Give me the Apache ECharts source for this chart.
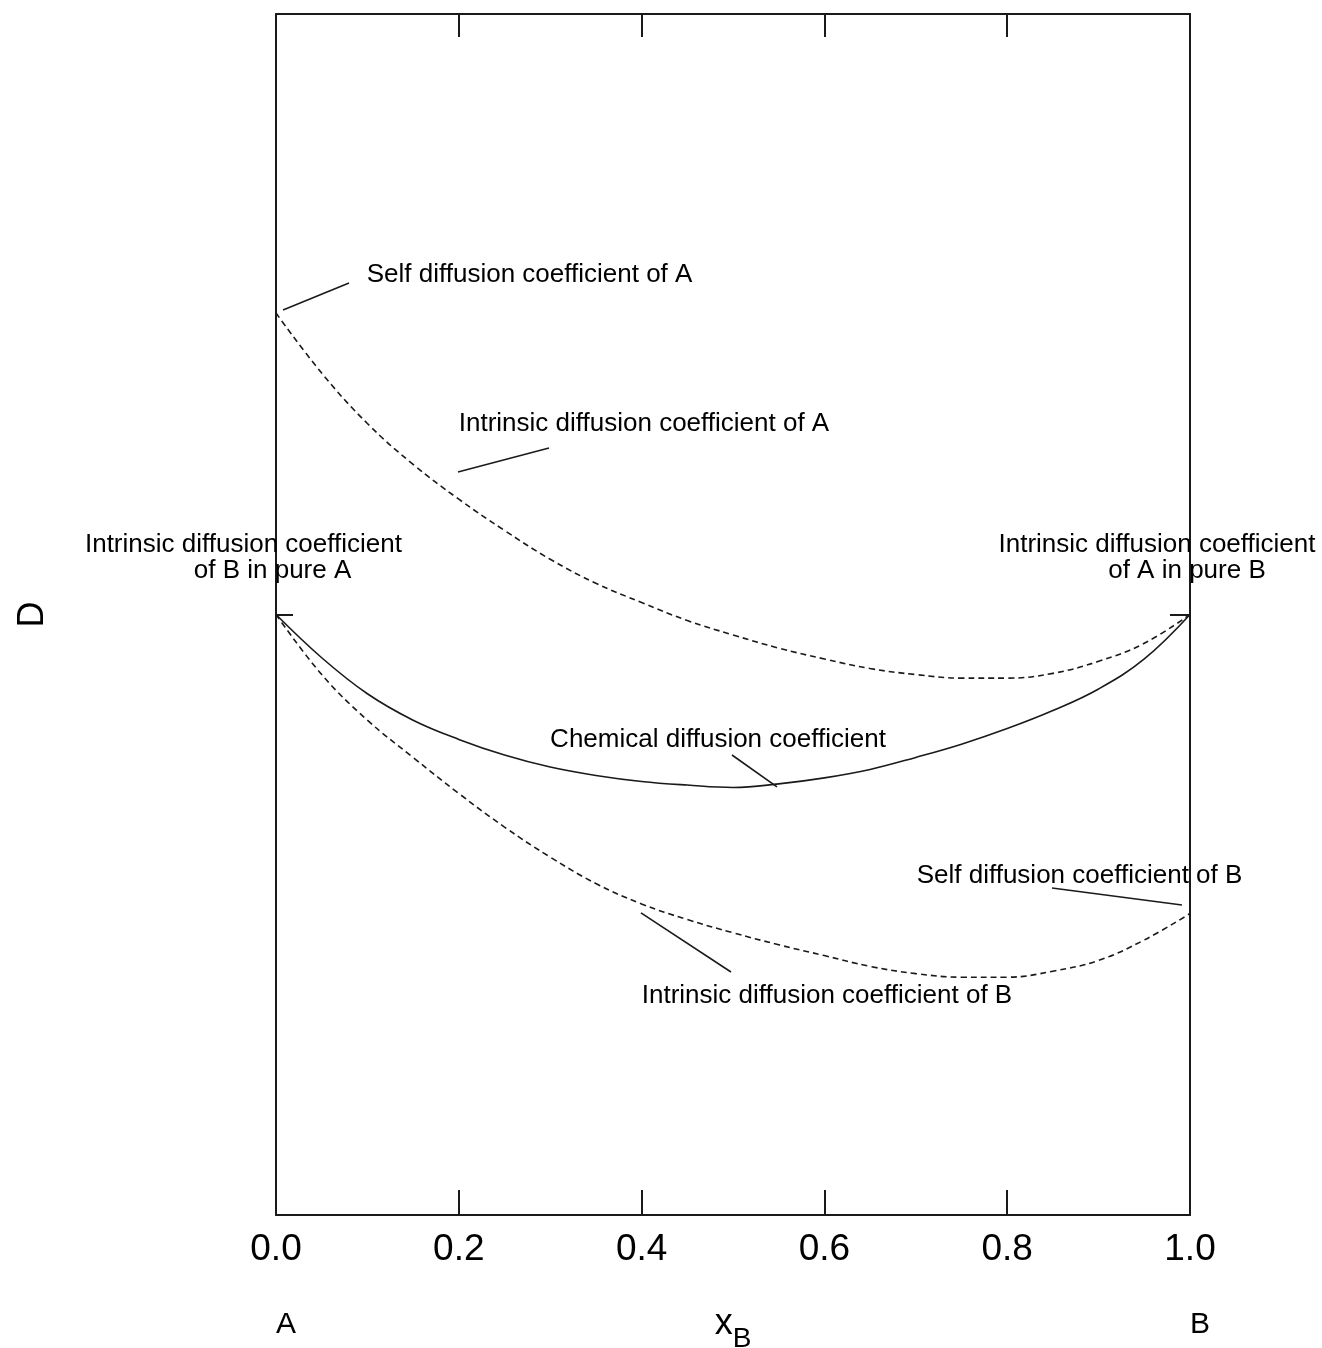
<!DOCTYPE html>
<html>
<head>
<meta charset="utf-8">
<script src="https://cdn.jsdelivr.net/npm/echarts@6/dist/echarts.min.js"></script>
<style>
html,body{margin:0;padding:0;background:#fff;overflow:hidden;}
#chart{width:1322px;height:1348px;}
</style>
</head>
<body>
<div id="chart"></div>
<script>
// composition x_B
const xB = [0, 0.05, 0.1, 0.15, 0.2, 0.25, 0.3, 0.35, 0.4, 0.45, 0.5, 0.55, 0.6, 0.65, 0.7, 0.75, 0.8, 0.85, 0.9, 0.95, 1.0];
// intrinsic diffusion coefficient of A (dashed, upper)
const DA = [0.751, 0.701, 0.659, 0.625, 0.596, 0.570, 0.546, 0.526, 0.510, 0.495, 0.483, 0.472, 0.463, 0.455, 0.450, 0.447, 0.447, 0.451, 0.461, 0.476, 0.500];
// chemical diffusion coefficient (solid)
const Dchem = [0.500, 0.464, 0.434, 0.412, 0.396, 0.383, 0.373, 0.366, 0.361, 0.358, 0.356, 0.359, 0.364, 0.371, 0.381, 0.392, 0.405, 0.420, 0.438, 0.463, 0.500];
// intrinsic diffusion coefficient of B (dashed, lower)
const DB = [0.500, 0.450, 0.412, 0.381, 0.351, 0.323, 0.298, 0.276, 0.259, 0.246, 0.235, 0.225, 0.216, 0.207, 0.201, 0.198, 0.198, 0.203, 0.212, 0.229, 0.251];
// vertical dashed segment at pure B
const edgeB = [[1.0, 0.500], [1.0, 0.251]];

// annotation texts and anchor (data coords)
const noteText = [
  'Self diffusion coefficient of A',
  'Intrinsic diffusion coefficient of A',
  'Intrinsic diffusion coefficient',
  'of B in pure A',
  'Intrinsic diffusion coefficient',
  'of A in pure B',
  'Chemical diffusion coefficient',
  'Self diffusion coefficient of B',
  'Intrinsic diffusion coefficient of B'
];
const noteX = [0.2774, 0.4026, -0.0356, -0.0038, 0.9639, 0.9967, 0.4836, 0.8791, 0.6028];
const noteY = [0.7827, 0.6586, 0.5579, 0.5362, 0.5579, 0.5362, 0.3955, 0.2823, 0.1823];

// leader lines [x1,y1,x2,y2]
const leaders = [
  [0.0077, 0.7535, 0.0799, 0.7760],
  [0.1991, 0.6187, 0.2987, 0.6386],
  [0.4989, 0.3830, 0.5481, 0.3564],
  [0.8490, 0.2723, 0.9912, 0.2581],
  [0.3993, 0.2515, 0.4978, 0.2023]
];

const FONT = '"Liberation Sans", Arial, sans-serif';
const INK = '#1a1a1a';

const chart = echarts.init(document.getElementById('chart'), null, {renderer: 'canvas', width: 1322, height: 1348});

const zip = ys => xB.map((x, i) => [x, ys[i]]);

const series = [
  {type: 'line', data: zip(DA), smooth: 0.4, symbol: 'none', lineStyle: {color: INK, width: 1.6, type: [6, 4]}, z: 3},
  {type: 'line', data: zip(Dchem), smooth: 0.4, symbol: 'none', lineStyle: {color: INK, width: 1.6, type: 'solid'}, z: 3},
  {type: 'line', data: zip(DB), smooth: 0.4, symbol: 'none', lineStyle: {color: INK, width: 1.6, type: [6, 4]}, z: 3},
  {type: 'line', data: edgeB, symbol: 'none', lineStyle: {color: INK, width: 1.3, type: [6, 4]}, z: 3}
];
leaders.forEach(l => {
  series.push({type: 'line', data: [[l[0], l[1]], [l[2], l[3]]], symbol: 'none', lineStyle: {color: INK, width: 1.6}, z: 3});
});
series.push({
  type: 'scatter',
  clip: false,
  symbolSize: 0,
  silent: true,
  itemStyle: {opacity: 1},
  data: noteText.map((t, i) => ({value: [noteX[i], noteY[i]], name: t})),
  label: {
    show: true,
    position: 'inside',
    formatter: p => p.name,
    fontFamily: FONT,
    fontSize: 26,
    color: '#000',
    opacity: 1,
    align: 'center',
    verticalAlign: 'middle'
  },
  z: 5
});

const axisLineStyle = {color: INK, width: 2};

const option = {
  backgroundColor: '#fff',
  animation: false,
  grid: {left: 276, top: 14, width: 914, height: 1201, containLabel: false, outerBoundsMode: 'none'},
  xAxis: [
    {
      type: 'value', min: 0, max: 1, interval: 0.2, position: 'bottom',
      axisLine: {show: true, onZero: false, lineStyle: axisLineStyle},
      axisTick: {show: true, inside: true, length: 25, lineStyle: axisLineStyle},
      axisLabel: {show: true, margin: 16, fontFamily: FONT, fontSize: 37, color: '#000', formatter: v => v.toFixed(1)},
      splitLine: {show: false},
      name: '{x|x}{b|B}',
      nameLocation: 'middle',
      nameGap: 91,
      nameTextStyle: {
        rich: {
          x: {fontFamily: FONT, fontSize: 36, lineHeight: 36, verticalAlign: 'top', color: '#000'},
          b: {fontFamily: FONT, fontSize: 28, lineHeight: 28, verticalAlign: 'top', padding: [19, 0, 0, 0], color: '#000'}
        }
      }
    },
    {
      type: 'value', min: 0, max: 1, interval: 0.2, position: 'top',
      axisLine: {show: true, onZero: false, lineStyle: axisLineStyle},
      axisTick: {show: true, inside: true, length: 23, lineStyle: axisLineStyle},
      axisLabel: {show: false},
      splitLine: {show: false}
    },
    {
      type: 'value', min: 0, max: 1, interval: 1, position: 'bottom',
      axisLine: {show: false, onZero: false},
      axisTick: {show: false},
      axisLabel: {show: true, margin: 95, fontFamily: FONT, fontSize: 30, color: '#000', padding: [0, 0, 0, 20],
        formatter: v => (v === 0 ? 'A' : 'B')},
      splitLine: {show: false}
    }
  ],
  yAxis: [
    {
      type: 'value', min: 0, max: 1, interval: 0.5, position: 'left',
      axisLine: {show: true, onZero: false, lineStyle: axisLineStyle},
      axisTick: {show: true, inside: true, length: 17, lineStyle: axisLineStyle},
      axisLabel: {show: false},
      splitLine: {show: false},
      name: 'D',
      nameLocation: 'middle',
      nameRotate: 90,
      nameGap: 225,
      nameTextStyle: {fontFamily: FONT, fontSize: 36, color: '#000'}
    },
    {
      type: 'value', min: 0, max: 1, interval: 0.5, position: 'right',
      axisLine: {show: true, onZero: false, lineStyle: axisLineStyle},
      axisTick: {show: true, inside: true, length: 20, lineStyle: axisLineStyle},
      axisLabel: {show: false},
      splitLine: {show: false}
    }
  ],
  series: series
};
chart.setOption(option);
</script>
</body>
</html>
